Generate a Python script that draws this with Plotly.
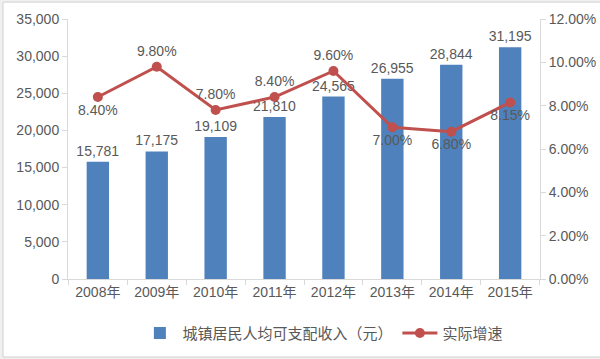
import plotly.graph_objects as go

years = ["2008年", "2009年", "2010年", "2011年", "2012年", "2013年", "2014年", "2015年"]
income = [15781, 17175, 19109, 21810, 24565, 26955, 28844, 31195]
growth = [0.084, 0.098, 0.078, 0.084, 0.096, 0.070, 0.068, 0.0815]
growth_pos = ["bottom center", "top center", "top center", "top center",
              "top center", "bottom center", "bottom center", "bottom center"]

FONT = "Liberation Sans, Noto Sans CJK SC, sans-serif"
TXT = "#595959"
AX = "#D9D9D9"

fig = go.Figure()
fig.add_trace(go.Bar(
    x=years, y=income, name="城镇居民人均可支配收入（元）",
    marker=dict(color="#4F81BD", line=dict(width=0)),
    texttemplate="%{y:,}", textposition="outside", constraintext="none",
    textfont=dict(size=14, color=TXT, family=FONT),
    cliponaxis=False,
))
fig.add_trace(go.Scatter(
    x=years, y=growth, name="实际增速", yaxis="y2",
    mode="lines+markers+text",
    line=dict(color="#C0504D", width=3),
    marker=dict(color="#C0504D", size=10),
    texttemplate="%{y:.2%}", textposition=growth_pos,
    textfont=dict(size=14, color=TXT, family=FONT),
    cliponaxis=False,
))

fig.update_layout(
    width=600, height=359,
    margin=dict(l=68, r=60, t=19, b=80, autoexpand=False),
    paper_bgcolor="#F0F0F0", plot_bgcolor="white",
    font=dict(family=FONT, size=13, color=TXT),
    bargap=0.62,
    showlegend=True,
    legend=dict(orientation="h", x=0.54, xanchor="center", y=-0.145, yanchor="top",
                font=dict(size=15, color=TXT, family=FONT), itemwidth=35,
                bgcolor="rgba(0,0,0,0)"),
    xaxis=dict(showline=True, linecolor=AX, linewidth=1, ticks="outside",
               tickcolor=AX, ticklen=5, tickson="boundaries", showgrid=False,
               automargin=False, tickfont=dict(size=14, color=TXT)),
    yaxis=dict(range=[0, 35000], dtick=5000, tickformat=",", showline=True,
               linecolor=AX, ticks="outside", tickcolor=AX, ticklen=5,
               showgrid=False, zeroline=False, automargin=False,
               tickfont=dict(size=14, color=TXT)),
    yaxis2=dict(range=[0, 0.12], dtick=0.02, tickformat=".2%", overlaying="y",
                side="right", showline=True, linecolor=AX, ticks="outside",
                tickcolor=AX, ticklen=5, showgrid=False, zeroline=False,
                automargin=False, tickfont=dict(size=14, color=TXT)),
    shapes=[dict(type="rect", xref="paper", yref="paper", x0=-0.1377, x1=1.13,
                 y0=-0.3, y1=1.065, layer="below", fillcolor="white",
                 line=dict(color="#D0D0D0", width=1))],
)

fig.write_html("out.html", config={"displayModeBar": False},
               post_script="document.body.style.margin='0';")
